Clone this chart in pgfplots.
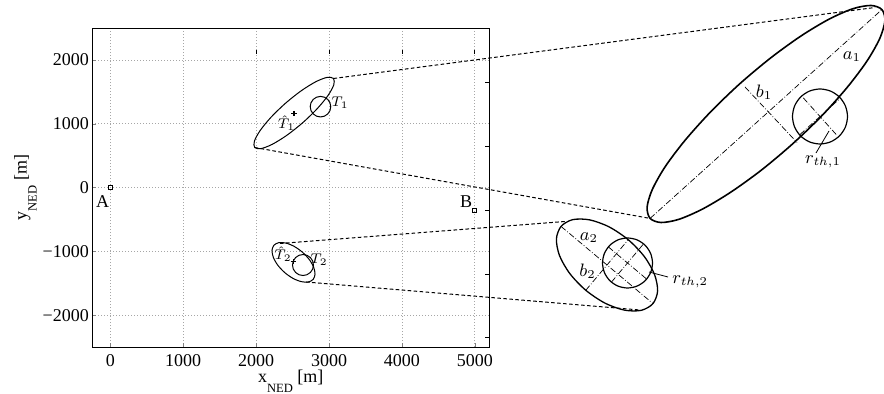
\documentclass[border=0pt]{standalone}
\usepackage{fontspec}
\setmainfont{Liberation Serif}
\usepackage{pgfplots}
\pgfplotsset{compat=1.18}
\begin{document}
\fontsize{9}{10.8}\selectfont
\begin{tikzpicture}[
  conn/.style={black, line width=0.5pt, dash pattern=on 1.8pt off 1.2pt},
  dd/.style={black, line width=0.35pt, dash pattern=on 3pt off 1pt on 0.4pt off 1pt},
  tl/.style={font=\fontsize{7.5}{9}\selectfont, inner sep=0pt},
]
\useasboundingbox (0,0) rectangle (442pt,197pt);
\begin{axis}[
  at={(46.04pt,23.4pt)}, anchor=south west,
  width=198.66pt, height=159.5pt, scale only axis,
  xmin=-250, xmax=5200, ymin=-2500, ymax=2500,
  xtick={0,1000,2000,3000,4000,5000},
  xticklabels={0,1000,2000,3000,4000,5000},
  ytick={-2000,-1000,0,1000,2000},
  yticklabels={−2000,−1000,0,1000,2000},
  tick align=inside, major tick length=2pt, tick pos=left,
  grid=major, grid style={gray!70, line width=0.4pt, dash pattern=on 0.5pt off 1pt},
  axis line style={line width=0.5pt},
  xticklabel style={inner sep=3.4pt},
  yticklabel style={inner sep=1.4pt},
  xlabel={x\raisebox{-5pt}{\fontsize{6.3}{7}\selectfont NED} [m]},
  ylabel={y\raisebox{-5pt}{\fontsize{6.3}{7}\selectfont NED} [m]},
  xlabel style={at={(axis description cs:0.5,-0.1113)}, anchor=base},
  ylabel style={at={(axis description cs:-0.1646,0.5)}, anchor=base},
  clip=false,
]
% small ellipse 1
\addplot[black, line width=0.5pt, smooth cycle] coordinates {
(3061.4,1711.8) (3065.3,1612.0) (2986.2,1444.9) (2836.6,1236.5) (2638.5,1017.7) (2422.6,822.3) (2222.0,680.3) (2066.7,612.6) (1980.6,630.2) (1976.7,730.0) (2055.8,897.1) (2205.4,1105.5) (2403.5,1324.3) (2619.4,1519.7) (2820.0,1661.7) (2975.3,1729.4)};
% T1 circle
\addplot[black, line width=0.5pt, smooth cycle] coordinates {
(3024,1270) (3013.3,1331.7) (2982.7,1383.8) (2937.0,1418.8) (2883,1431) (2829.0,1418.8) (2783.3,1383.8) (2752.7,1331.7) (2742,1270) (2752.7,1208.3) (2783.3,1156.2) (2829.0,1121.2) (2883,1109) (2937.0,1121.2) (2982.7,1156.2) (3013.3,1208.3)};
% small ellipse 2
\addplot[black, line width=0.5pt, smooth cycle] coordinates {
(2782.3,-1437.4) (2808.3,-1355.9) (2789.3,-1246.2) (2728.4,-1124.8) (2634.5,-1010.3) (2522.2,-920.0) (2408.5,-868.0) (2310.7,-861.7) (2243.7,-902.6) (2217.7,-984.1) (2236.7,-1093.8) (2297.6,-1215.2) (2391.5,-1329.7) (2503.8,-1420.0) (2617.5,-1472.0) (2715.3,-1478.3)};
% T2 circle
\addplot[black, line width=0.5pt, smooth cycle] coordinates {
(2787,-1212) (2776.1,-1149.0) (2744.8,-1095.6) (2698.2,-1059.9) (2643,-1047.4) (2587.8,-1059.9) (2541.2,-1095.6) (2509.9,-1149.0) (2499,-1212) (2509.9,-1275.0) (2541.2,-1328.4) (2587.8,-1364.1) (2643,-1376.6) (2698.2,-1364.1) (2744.8,-1328.4) (2776.1,-1275.0)};
% A and B
\addplot[only marks, mark=square, mark size=1pt, black, line width=0.4pt] coordinates {(0,0) (5000,-350)};
% estimates
\addplot[only marks, mark=+, mark size=1.3pt, black, line width=0.6pt] coordinates {(2520,1165) (2510,-1160)};
% stray ticks of the overlaid axes
\addplot[black, line width=0.5pt] coordinates {(5145,1652) (5200,1652)};
\addplot[black, line width=0.5pt] coordinates {(5145,643) (5200,643)};
\addplot[black, line width=0.5pt] coordinates {(5145,-350) (5200,-350)};
\addplot[black, line width=0.5pt] coordinates {(5145,-1353) (5200,-1353)};
\addplot[black, line width=0.5pt] coordinates {(5145,-2351) (5200,-2351)};
\addplot[black, line width=0.4pt] coordinates {(2000,2100) (2000,2155)};
\addplot[black, line width=0.4pt] coordinates {(3000,2100) (3000,2155)};
\addplot[black, line width=0.4pt] coordinates {(4000,2100) (4000,2155)};
\addplot[black, line width=0.4pt] coordinates {(5000,2100) (5000,2155)};
\node[inner sep=0pt] at (axis cs:-104,-219) {A};
\node[inner sep=0pt] at (axis cs:4879,-219) {B};
\node[tl] at (axis cs:3150,1328) {$T_1$};
\node[tl] at (axis cs:2417,1009) {$\hat{T}_1$};
\node[tl] at (axis cs:2863,-1122) {$T_2$};
\node[tl] at (axis cs:2369,-1039) {$\hat{T}_2$};
\end{axis}
\begin{axis}[
  at={(0pt,0pt)}, anchor=south west,
  width=442pt, height=197pt, scale only axis,
  xmin=0, xmax=884, ymin=0, ymax=394,
  hide axis, clip=false,
]
% connectors
\addplot[conn] coordinates {(333.5,315.5) (875,386.5)};
\addplot[conn] coordinates {(254.7,246.5) (650,175.6)};
\addplot[conn] coordinates {(280,150.5) (565,172.5)};
\addplot[conn] coordinates {(306,112) (640,84)};
% big ellipse 1
\addplot[black, line width=0.8pt, smooth cycle] coordinates {
(881.9,384.4) (871.0,388.5) (853.0,385.3) (829.0,374.8) (800.8,357.9) (770.2,335.7) (739.2,309.7) (710.2,281.7) (684.9,253.5) (665.1,227.2) (652.3,204.5) (647.1,186.9) (650.1,175.6) (661.0,171.5) (679.0,174.7) (703.0,185.2) (731.2,202.1) (761.9,224.3) (792.8,250.3) (821.9,278.3) (847.1,306.5) (866.9,332.8) (879.8,355.6) (884.9,373.2)};
% circle 1
\addplot[black, line width=0.6pt, smooth cycle] coordinates {
(847.5,277.5) (845.41,288.03) (839.44,296.94) (830.53,302.91) (820,305) (809.47,302.91) (800.56,296.94) (794.59,288.03) (792.5,277.5) (794.59,266.97) (800.56,258.06) (809.47,252.09) (820,250) (830.53,252.09) (839.44,258.06) (845.41,266.97)};
\addplot[dd] coordinates {(650.1,175.6) (881.9,384.4)};
\addplot[dd] coordinates {(745,307) (797,251.5)};
\addplot[dd] coordinates {(799.9,259.4) (840.1,295.6)};
\addplot[dd] coordinates {(803.3,296.1) (836.7,258.9)};
\addplot[black, line width=0.4pt] coordinates {(829,263) (816,241)};
% big ellipse 2
\addplot[black, line width=0.65pt, smooth cycle] coordinates {
(652.96,90.42) (657.6,103.03) (654.49,119.59) (644.21,137.58) (628.22,154.28) (609.01,167.14) (589.51,174.15) (572.66,174.33) (561.04,167.58) (556.4,154.97) (559.51,138.41) (569.79,120.42) (585.78,103.72) (604.99,90.86) (624.49,83.85) (641.34,83.67)};
% circle 2
\addplot[black, line width=0.6pt, smooth cycle] coordinates {
(652.5,131) (650.6,140.57) (645.18,148.68) (637.07,154.1) (627.5,156) (617.93,154.1) (609.82,148.68) (604.4,140.57) (602.5,131) (604.4,121.43) (609.82,113.32) (617.93,107.9) (627.5,106) (637.07,107.9) (645.18,113.32) (650.6,121.43)};
\addplot[dd] coordinates {(561.04,167.58) (652.96,90.42)};
\addplot[dd] coordinates {(585.78,103.72) (628.22,154.28)};
\addplot[dd] coordinates {(608.35,147.08) (646.65,114.92)};
\addplot[dd] coordinates {(611.42,111.85) (643.58,150.15)};
\addplot[black, line width=0.4pt] coordinates {(649,122) (668,117)};
\node at (axis cs:852,337) {$a_1$};
\node at (axis cs:764,302) {$b_1$};
\node at (axis cs:823,232) {$r_{th,1}$};
\node at (axis cs:589,156) {$a_2$};
\node at (axis cs:587.5,122.5) {$b_2$};
\node[anchor=west] at (axis cs:666,112) {$r_{th,2}$};
\end{axis}
\end{tikzpicture}
\end{document}
